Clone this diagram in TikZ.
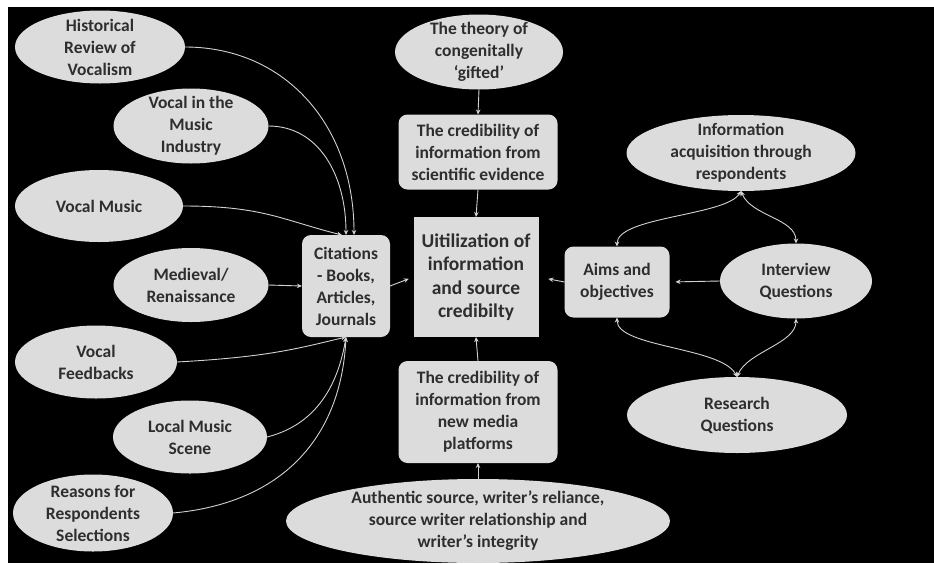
\documentclass[tikz,border=0pt]{standalone}
\usepackage{fontspec}
\setmainfont{Carlito}
\usetikzlibrary{shapes.geometric,arrows.meta}
\definecolor{nodefill}{HTML}{DCDCDC}
\definecolor{txt}{HTML}{2E2E2E}
\definecolor{linec}{HTML}{D2D2D2}
\begin{document}
\begin{tikzpicture}[x=1pt,y=-1pt,
  every node/.style={font=\bfseries\fontsize{17.5}{22}\selectfont, text=txt, align=center},
  oval/.style={ellipse, fill=nodefill, inner xsep=0pt, inner ysep=-9pt, outer sep=0pt},
  rbox/.style={rectangle, rounded corners=9pt, fill=nodefill, inner sep=0pt, outer sep=0pt},
  sbox/.style={rectangle, fill=nodefill, inner sep=0pt, outer sep=0pt},
  tip/.tip={Stealth[length=5pt,width=4.5pt]},
  conn/.style={draw=linec, line width=0.9pt, -tip},
  biconn/.style={draw=linec, line width=0.9pt, tip-tip}]
% background
\fill[white] (0,0) rectangle (934,563);
\fill[black] (8,7) rectangle (934,563);
\useasboundingbox (0,0) rectangle (934,563);
% left ellipses
\node[oval, minimum width=170pt, minimum height=73pt] (hist) at (100,47) {Historical\\Review of\\Vocalism};
\node[oval, minimum width=155pt, minimum height=75pt] (vind) at (191,126) {Vocal in the\\Music\\Industry};
\node[oval, minimum width=168pt, minimum height=72pt] (vmus) at (99,206) {Vocal Music};
\node[oval, minimum width=155pt, minimum height=74pt] (med) at (191,285) {Medieval/\\Renaissance};
\node[oval, minimum width=162pt, minimum height=73pt] (vfb) at (96,362) {Vocal\\Feedbacks};
\node[oval, minimum width=154pt, minimum height=73pt] (local) at (190,437) {Local Music\\Scene};
\node[oval, minimum width=160pt, minimum height=77pt] (reas) at (93,513) {Reasons for\\Respondents\\Selections};
% citations
\node[rbox, minimum width=88pt, minimum height=102pt] (cit) at (346,286) {Citations\\- Books,\\Articles,\\Journals};
% centre column
\node[oval, minimum width=168pt, minimum height=75pt] (theory) at (479,52) {The theory of\\congenitally\\‘gifted’};
\node[rbox, minimum width=159pt, minimum height=75pt] (credsci) at (478,152) {The credibility of\\information from\\scientific evidence};
\node[sbox, minimum width=125pt, minimum height=120pt, font=\bfseries\fontsize{19.5}{23.5}\selectfont] (util) at (476,277) {Uitilization of\\information\\and source\\credibilty};
\node[rbox, minimum width=159pt, minimum height=102pt] (credmed) at (478,412) {The credibility of\\information from\\new media\\platforms};
\node[oval, minimum width=384pt, minimum height=84pt] (auth) at (478,521) {Authentic source, writer’s reliance,\\source writer relationship and\\writer’s integrity};
% right cluster
\node[rbox, minimum width=105pt, minimum height=71pt] (aims) at (617,282) {Aims and\\objectives};
\node[oval, minimum width=152pt, minimum height=75pt] (inter) at (796,281) {Interview\\Questions};
\node[oval, minimum width=229pt, minimum height=76pt] (info) at (741,153) {Information\\acquisition through\\respondents};
\node[oval, minimum width=220pt, minimum height=76pt] (resq) at (737,415) {Research\\Questions};
% left connectors
\draw[conn] (hist.east) .. controls +(100,0) and +(0,-110) .. ([xshift=8pt]cit.north);
\draw[conn] (vind.east) .. controls +(50,0) and +(0,-60) .. ([xshift=0pt]cit.north);
\draw[conn] (vmus.east) .. controls +(80,0) and +(-60,-15) .. ([xshift=-4pt]cit.north);
\draw[conn] (med.east) -- (cit.west);
\draw[conn] (vfb.east) .. controls +(90,-5) and +(-50,12) .. (cit.south);
\draw[conn] (local.east) .. controls +(40,-10) and +(-10,60) .. (cit.south);
\draw[conn] (reas.east) .. controls +(110,-10) and +(-5,100) .. (cit.south);
% centre connectors
\draw[conn, shorten >=5pt] (cit.east) -- (util.west);
\draw[conn] (theory.south) -- (credsci.north);
\draw[conn] (credsci.south) -- (util.north);
\draw[conn] (credmed.north) -- (util.south);
\draw[conn] (auth.north) -- (credmed.south);
% right connectors
\draw[conn, shorten >=10pt] (aims.west) -- (util.east);
\draw[conn, shorten >=6pt] (inter.west) -- (aims.east);
\draw[biconn] (info.south) .. controls +(-15,25) and +(0,-30) .. (aims.north);
\draw[biconn] (info.south) .. controls +(10,25) and +(0,-25) .. (inter.north);
\draw[biconn] (resq.north) .. controls +(-15,-30) and +(0,30) .. (aims.south);
\draw[biconn] (resq.north) .. controls +(10,-25) and +(0,25) .. (inter.south);
\end{tikzpicture}
\end{document}
